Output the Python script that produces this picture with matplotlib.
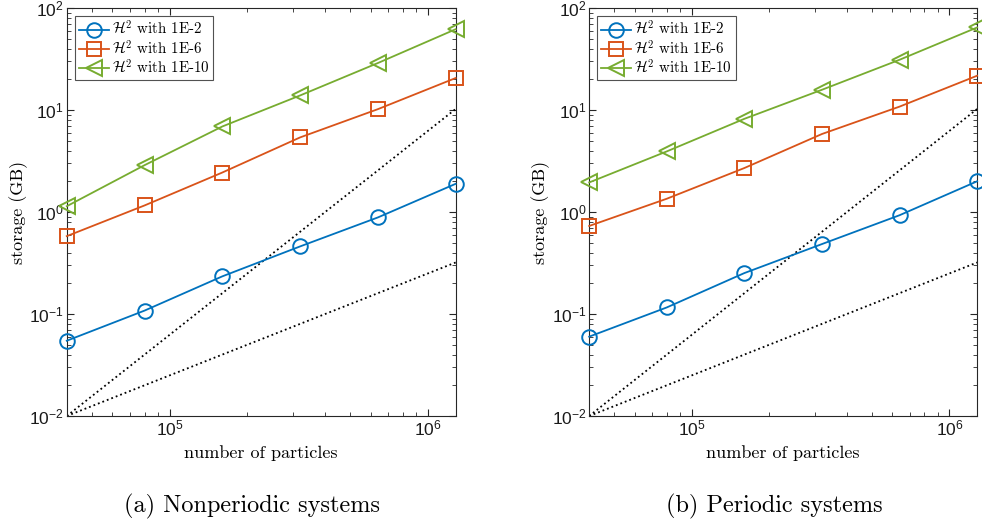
import numpy as np
import matplotlib
matplotlib.use('Agg')
import matplotlib.pyplot as plt

plt.rcParams['mathtext.fontset'] = 'custom'
plt.rcParams['mathtext.rm'] = 'Liberation Sans'
plt.rcParams['mathtext.it'] = 'Liberation Sans:italic'
plt.rcParams['mathtext.bf'] = 'Liberation Sans:bold'
plt.rcParams['font.family'] = 'Liberation Sans'

particles = [4e4, 8e4, 1.6e5, 3.2e5, 6.4e5, 1.28e6]

# nonperiodic
np_tol2 = [0.0547, 0.108, 0.234, 0.46, 0.885, 1.89]
np_tol6 = [0.58, 1.16, 2.44, 5.39, 10.2, 20.6]
np_tol10 = [1.14, 2.88, 6.9, 13.9, 28.9, 62.0]

# periodic
p_tol2 = [0.060, 0.116, 0.252, 0.485, 0.93, 2.0]
p_tol6 = [0.73, 1.35, 2.70, 5.82, 10.8, 21.7]
p_tol10 = [1.95, 3.93, 8.2, 15.8, 31.1, 64.5]

# reference slopes
ref_x = [4e4, 1.28e6]
ref_linear = [1e-2, 0.32]
ref_quad = [1e-2, 10.24]

labels = [r'$\mathcal{H}^2$ with 1E-2', r'$\mathcal{H}^2$ with 1E-6',
          r'$\mathcal{H}^2$ with 1E-10']
colors = ['#0072BD', '#D95319', '#77AC30']
markers = ['o', 's', '<']
msizes = [10.5, 9.5, 11]
serif = 'cmr10'


def storage_plot(ax, series, caption):
    ax.plot(ref_x, ref_quad, ':', color='k', lw=1.3)
    ax.plot(ref_x, ref_linear, ':', color='k', lw=1.3)
    handles = []
    for ys, c, m, ms, lab in zip(series, colors, markers, msizes, labels):
        h, = ax.plot(particles, ys, '-', marker=m, color=c, lw=1.3, ms=ms,
                     mfc='none', mew=1.4, label=lab, clip_on=False, zorder=3)
        handles.append(h)
    ax.set_xscale('log')
    ax.set_yscale('log')
    ax.set_xlim(4e4, 1.28e6)
    ax.set_ylim(1e-2, 1e2)
    ax.tick_params(which='both', direction='in', top=True, right=True,
                   labelsize=12.5, color='#262626', labelcolor='#1a1a1a')
    ax.tick_params(which='major', length=5, pad=2)
    ax.tick_params(which='minor', length=2.8)
    for s in ax.spines.values():
        s.set_color('#262626')
        s.set_linewidth(0.8)
    ax.set_xlabel('number of particles', family=serif, fontsize=13, labelpad=5)
    ax.set_ylabel('storage (GB)', family=serif, fontsize=13, labelpad=1)
    leg = ax.legend(handles=handles, loc='upper left', fancybox=False,
                    edgecolor='#262626', handlelength=2.0, handletextpad=0.2,
                    borderpad=0.25, labelspacing=0.08, borderaxespad=0.55,
                    prop={'family': serif, 'size': 10.8, 'math_fontfamily': 'cm'})
    leg.get_frame().set_linewidth(0.8)
    ax.text(0.477, -0.19, caption, transform=ax.transAxes, ha='center',
            va='top', family=serif, fontsize=17.5)


fig = plt.figure(figsize=(9.82, 5.23), dpi=100)
ax1 = fig.add_axes([0.068, 0.2046, 0.396, 0.780])
ax2 = fig.add_axes([0.600, 0.2046, 0.395, 0.780])
storage_plot(ax1, [np_tol2, np_tol6, np_tol10], '(a) Nonperiodic systems')
storage_plot(ax2, [p_tol2, p_tol6, p_tol10], '(b) Periodic systems')

fig.savefig('out.png', dpi=100)
